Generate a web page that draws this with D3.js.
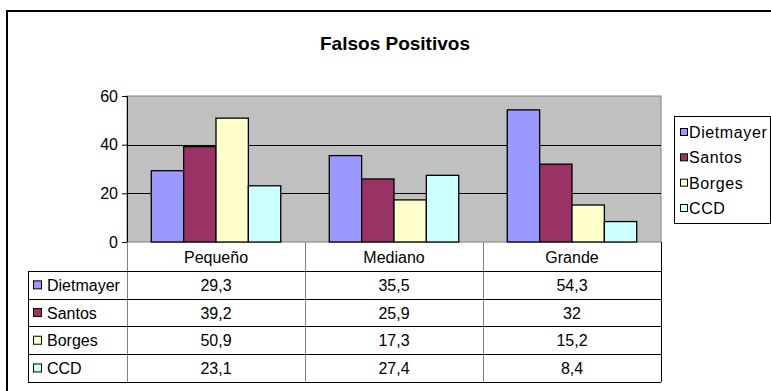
<!DOCTYPE html>
<html>
<head>
<meta charset="utf-8">
<script src="https://cdn.jsdelivr.net/npm/d3@7"></script>
<style>
  html, body { margin: 0; padding: 0; background: #fff; }
  svg { display: block; font-family: "Liberation Sans", Arial, sans-serif; }
</style>
</head>
<body>
<svg id="chart" width="771" height="391"></svg>
<script>
// Data
const title = "Falsos Positivos";
const categories = ["Pequeño", "Mediano", "Grande"];
const seriesNames = ["Dietmayer", "Santos", "Borges", "CCD"];
const dietmayer = [29.3, 35.5, 54.3];
const santos = [39.2, 25.9, 32];
const borges = [50.9, 17.3, 15.2];
const ccd = [23.1, 27.4, 8.4];
const yTicks = [0, 20, 40, 60];
const seriesColors = ["#9999FF", "#993366", "#FFFFCC", "#CCFFFF"];

const seriesValues = [dietmayer, santos, borges, ccd];

const svg = d3.select("#chart");

// Outer chart frame (runs past the right/bottom edges)
svg.append("rect")
  .attr("x", 7).attr("y", 11).attr("width", 800).attr("height", 420)
  .attr("fill", "#fff").attr("stroke", "#000").attr("stroke-width", 2);

// Title
svg.append("text")
  .attr("x", 395).attr("y", 50)
  .attr("text-anchor", "middle")
  .attr("font-size", 19).attr("font-weight", "bold")
  .text(title);

// Plot layout
const plotLeft = 127, plotRight = 661, plotTop = 96, plotBottom = 242;

const x = d3.scaleBand().domain(categories).range([plotLeft, plotRight]).paddingInner(0).paddingOuter(0);
const xs = d3.scaleBand().domain(seriesNames).range([0, x.bandwidth()]).paddingInner(0).paddingOuter(0.75);
const y = d3.scaleLinear().domain([0, 60]).range([plotBottom, plotTop]);

// Plot background
svg.append("rect")
  .attr("x", plotLeft).attr("y", plotTop)
  .attr("width", plotRight - plotLeft).attr("height", plotBottom - plotTop)
  .attr("fill", "#C0C0C0").attr("stroke", "#808080").attr("stroke-width", 1);

// Gridlines
svg.append("g")
  .selectAll("line")
  .data(yTicks.filter(t => t > 0 && t < 60))
  .join("line")
  .attr("x1", plotLeft).attr("x2", plotRight)
  .attr("y1", d => Math.round(y(d)) + 0.5).attr("y2", d => Math.round(y(d)) + 0.5)
  .attr("stroke", "#000").attr("stroke-width", 1);

// Bars
const groups = svg.append("g")
  .selectAll("g")
  .data(seriesNames)
  .join("g")
  .attr("fill", (d, i) => seriesColors[i]);

groups.selectAll("rect")
  .data((name, si) => categories.map((c, ci) => ({ name, c, v: seriesValues[si][ci] })))
  .join("rect")
  .attr("x", d => x(d.c) + xs(d.name))
  .attr("y", d => y(d.v))
  .attr("width", xs.bandwidth())
  .attr("height", d => y(0) - y(d.v))
  .attr("stroke", "#000").attr("stroke-width", 1.3);

// Y axis
const yAxis = svg.append("g")
  .attr("transform", `translate(${plotLeft},0)`)
  .call(d3.axisLeft(y).tickValues(yTicks).tickSize(5).tickPadding(4));
yAxis.select(".domain").attr("stroke", "#000");
yAxis.selectAll("text").attr("font-size", 16).attr("font-family", "Liberation Sans, Arial, sans-serif").attr("fill", "#000");
yAxis.selectAll("line").attr("stroke", "#000");

// Data table
const rowTop = plotBottom;
const headerH = 29;
const rowH = 27.7;
const tableLeft = 28;
const fmt = d3.formatLocale({ decimal: ",", thousands: ".", grouping: [3], currency: ["", ""] }).format("~g");
const table = svg.append("g");

// header cells
table.selectAll("text.hdr")
  .data(categories)
  .join("text")
  .attr("class", "hdr")
  .attr("x", d => x(d) + x.bandwidth() / 2)
  .attr("y", rowTop + headerH / 2 + 6)
  .attr("text-anchor", "middle")
  .attr("font-size", 16)
  .text(d => d);

const tableBottom = rowTop + headerH + rowH * seriesNames.length;

// vertical lines at category boundaries
const bounds = categories.map(c => x(c)).concat([plotRight]);
table.selectAll("line.v")
  .data(bounds)
  .join("line")
  .attr("class", "v")
  .attr("x1", d => Math.round(d) + 0.5).attr("x2", d => Math.round(d) + 0.5)
  .attr("y1", rowTop).attr("y2", tableBottom)
  .attr("stroke", (d, i) => i === bounds.length - 1 ? "#000" : "#808080");

// horizontal lines
const rowLines = d3.range(seriesNames.length + 1).map(i => rowTop + headerH + i * rowH);
table.selectAll("line.h")
  .data(rowLines)
  .join("line")
  .attr("class", "h")
  .attr("x1", tableLeft).attr("x2", plotRight)
  .attr("y1", d => Math.round(d) + 0.5).attr("y2", d => Math.round(d) + 0.5)
  .attr("stroke", "#000");

// left border of label column
table.append("line")
  .attr("x1", tableLeft + 0.5).attr("x2", tableLeft + 0.5)
  .attr("y1", rowTop + headerH).attr("y2", tableBottom)
  .attr("stroke", "#000");

// rows
const rows = table.selectAll("g.row")
  .data(seriesNames)
  .join("g")
  .attr("class", "row")
  .attr("transform", (d, i) => `translate(0,${rowTop + headerH + i * rowH})`);

rows.append("rect")
  .attr("x", 33.5).attr("y", rowH / 2 - 4)
  .attr("width", 8).attr("height", 8)
  .attr("fill", (d, i) => seriesColors[i])
  .attr("stroke", "#000");

rows.append("text")
  .attr("x", 47).attr("y", rowH / 2 + 6)
  .attr("font-size", 16)
  .text(d => d);

rows.selectAll("text.val")
  .data((name, si) => categories.map((c, ci) => ({ c, v: seriesValues[si][ci] })))
  .join("text")
  .attr("class", "val")
  .attr("x", d => x(d.c) + x.bandwidth() / 2)
  .attr("y", rowH / 2 + 6)
  .attr("text-anchor", "middle")
  .attr("font-size", 16)
  .text(d => fmt(d.v));

// Legend
const legend = svg.append("g");
legend.append("rect")
  .attr("x", 674.5).attr("y", 116.5).attr("width", 96).attr("height", 107)
  .attr("fill", "#fff").attr("stroke", "#000");
const legendY = d3.scalePoint().domain(seriesNames).range([132, 208]);
const items = legend.selectAll("g.item")
  .data(seriesNames)
  .join("g")
  .attr("class", "item")
  .attr("transform", d => `translate(0,${legendY(d)})`);
items.append("rect")
  .attr("x", 680.5).attr("y", -3.5).attr("width", 7).attr("height", 7)
  .attr("fill", (d, i) => seriesColors[i]).attr("stroke", "#000");
items.append("text")
  .attr("x", 689).attr("y", 6)
  .attr("font-size", 16)
  .attr("letter-spacing", 0.6)
  .text(d => d);
</script>
</body>
</html>
